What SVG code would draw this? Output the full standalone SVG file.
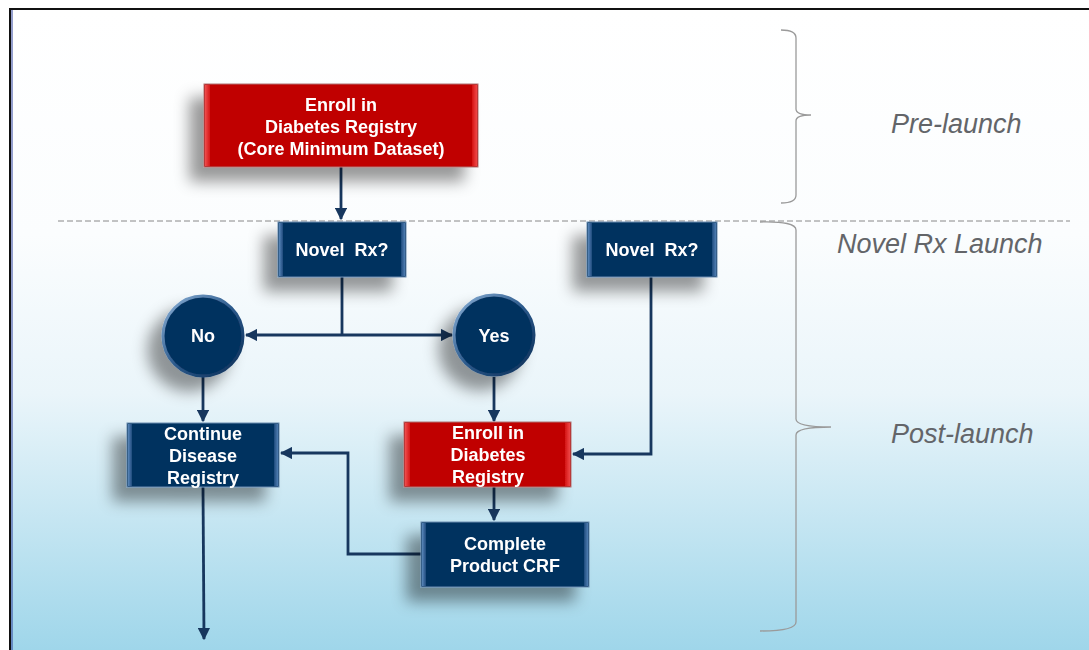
<svg xmlns="http://www.w3.org/2000/svg" width="1089" height="650" viewBox="0 0 1089 650">
  <defs>
    <linearGradient id="bg" x1="0" y1="0" x2="0" y2="1">
      <stop offset="0" stop-color="#ffffff"/>
      <stop offset="0.35" stop-color="#fbfdfe"/>
      <stop offset="0.6" stop-color="#eaf5fa"/>
      <stop offset="1" stop-color="#9fd6ea"/>
    </linearGradient>
    <linearGradient id="navyEdge" x1="0" y1="0" x2="1" y2="0">
      <stop offset="0" stop-color="#5a88bb"/>
      <stop offset="1" stop-color="#1e4a7c"/>
    </linearGradient>
    <linearGradient id="navyEdgeR" x1="0" y1="0" x2="1" y2="0">
      <stop offset="0" stop-color="#1e4a7c"/>
      <stop offset="1" stop-color="#4f7fb3"/>
    </linearGradient>
    <linearGradient id="redEdge" x1="0" y1="0" x2="1" y2="0">
      <stop offset="0" stop-color="#f05050"/>
      <stop offset="1" stop-color="#d41414"/>
    </linearGradient>
    <linearGradient id="redEdgeR" x1="0" y1="0" x2="1" y2="0">
      <stop offset="0" stop-color="#d41414"/>
      <stop offset="1" stop-color="#f04848"/>
    </linearGradient>
    <linearGradient id="ring" x1="0" y1="0" x2="1" y2="1">
      <stop offset="0" stop-color="#8fb4da"/>
      <stop offset="0.5" stop-color="#2c5a8c"/>
      <stop offset="1" stop-color="#0b2d55"/>
    </linearGradient>
    <filter id="shadow" x="-40%" y="-40%" width="180%" height="200%">
      <feGaussianBlur in="SourceAlpha" stdDeviation="7.5"/>
      <feOffset dx="-14" dy="14" result="b"/>
      <feFlood flood-color="#000" flood-opacity="0.4"/>
      <feComposite in2="b" operator="in" result="s"/>
      <feMerge>
        <feMergeNode in="s"/>
        <feMergeNode in="SourceGraphic"/>
      </feMerge>
    </filter>
    <marker id="arrow" viewBox="0 0 10 10" refX="9" refY="5" markerWidth="4.4" markerHeight="4.4" orient="auto-start-reverse" markerUnits="strokeWidth">
      <path d="M0,0 L10,5 L0,10 Z" fill="#17375e"/>
    </marker>
  </defs>
  <style>
    .navy { fill: #03315f; stroke: #6a8bb0; stroke-width: 1; }
    .red { fill: #c00000; stroke: #b07070; stroke-width: 1; }
    .lbl { font-family: "Liberation Sans", Arial, sans-serif; font-weight: bold; font-size: 18px; fill: #ffffff; text-anchor: middle; }
    .phase { font-family: "Liberation Sans", Arial, sans-serif; font-style: italic; font-size: 27px; fill: #636569; }
    .conn { fill: none; stroke: #17375e; stroke-width: 2.8; }
    .brace { fill: none; stroke: #9a9a9a; stroke-width: 1.3; }
  </style>

  <!-- page background and frame -->
  <rect x="0" y="0" width="1089" height="650" fill="#ffffff"/>
  <rect x="11" y="10" width="1078" height="640" fill="url(#bg)"/>
  <line x1="10" y1="9" x2="1089" y2="9" stroke="#111" stroke-width="2"/>
  <line x1="10" y1="8" x2="10" y2="650" stroke="#111" stroke-width="2"/>
  <line x1="12" y1="10" x2="12" y2="650" stroke="#2a3f9a" stroke-width="1"/>

  <!-- phase separator -->
  <line x1="58" y1="221" x2="1070" y2="221" stroke="#888888" stroke-width="1" stroke-dasharray="6,3"/>

  <!-- phase braces and labels -->
  <g id="phases">
    <path class="brace" d="M781,30 Q796,30 796,38 L796,109 Q796,115 811,115 Q796,115 796,121 L796,195 Q796,203 781,203"/>
    <path class="brace" d="M760,222 Q796,221 796,230 L796,419 Q796,427 831,427 Q796,427 796,435 L796,622 Q796,631 760,631"/>
    <text class="phase" x="891" y="133">Pre-launch</text>
    <text class="phase" x="837" y="253">Novel Rx Launch</text>
    <text class="phase" x="891" y="443">Post-launch</text>
  </g>

  <!-- connectors -->
  <g id="connectors">
    <path class="conn" d="M341,167 L341,219" marker-end="url(#arrow)"/>
    <path class="conn" d="M342,277 L342,335"/>
    <path class="conn" d="M246,335 L452,335" marker-start="url(#arrow)" marker-end="url(#arrow)"/>
    <path class="conn" d="M203,377 L203,421" marker-end="url(#arrow)"/>
    <path class="conn" d="M494,377 L494,421" marker-end="url(#arrow)"/>
    <path class="conn" d="M651,277 L651,454 L573,454" marker-end="url(#arrow)"/>
    <path class="conn" d="M494,487 L494,520" marker-end="url(#arrow)"/>
    <path class="conn" d="M421,554 L348,554 L348,453 L281,453" marker-end="url(#arrow)"/>
    <path class="conn" d="M203,487 L204,639" marker-end="url(#arrow)"/>
  </g>

  <!-- enrollment box (pre-launch) -->
  <g id="enroll-core" filter="url(#shadow)">
    <rect class="red" x="204" y="84" width="274" height="83"/>
    <rect x="205" y="85" width="5" height="81" fill="url(#redEdge)"/>
    <rect x="472" y="85" width="5" height="81" fill="url(#redEdgeR)"/>
    <text class="lbl" x="341" y="111">Enroll in</text>
    <text class="lbl" x="341" y="133">Diabetes Registry</text>
    <text class="lbl" x="341" y="155">(Core Minimum Dataset)</text>
  </g>

  <!-- decision: Novel Rx? (left) -->
  <g id="novel-rx-1" filter="url(#shadow)">
    <rect class="navy" x="278" y="222" width="128" height="55"/>
    <rect x="279" y="223" width="4" height="53" fill="url(#navyEdge)"/>
    <rect x="401" y="223" width="4" height="53" fill="url(#navyEdgeR)"/>
    <text class="lbl" x="342" y="256" xml:space="preserve">Novel  Rx?</text>
  </g>

  <!-- decision: Novel Rx? (right) -->
  <g id="novel-rx-2" filter="url(#shadow)">
    <rect class="navy" x="587" y="222" width="130" height="55"/>
    <rect x="588" y="223" width="4" height="53" fill="url(#navyEdge)"/>
    <rect x="712" y="223" width="4" height="53" fill="url(#navyEdgeR)"/>
    <text class="lbl" x="652" y="256" xml:space="preserve">Novel  Rx?</text>
  </g>

  <!-- answers -->
  <g id="no" filter="url(#shadow)">
    <circle cx="203" cy="336" r="40" fill="#06325f" stroke="url(#ring)" stroke-width="3"/>
    <text class="lbl" x="203" y="342">No</text>
  </g>
  <g id="yes" filter="url(#shadow)">
    <circle cx="494" cy="335" r="40" fill="#06325f" stroke="url(#ring)" stroke-width="3"/>
    <text class="lbl" x="494" y="342">Yes</text>
  </g>

  <!-- continue disease registry -->
  <g id="continue-registry" filter="url(#shadow)">
    <rect class="navy" x="127" y="423" width="152" height="64"/>
    <rect x="128" y="424" width="4" height="62" fill="url(#navyEdge)"/>
    <rect x="274" y="424" width="4" height="62" fill="url(#navyEdgeR)"/>
    <text class="lbl" x="203" y="440">Continue</text>
    <text class="lbl" x="203" y="462">Disease</text>
    <text class="lbl" x="203" y="484">Registry</text>
  </g>

  <!-- enroll in diabetes registry (post-launch) -->
  <g id="enroll-post" filter="url(#shadow)">
    <rect class="red" x="404" y="422" width="167" height="65"/>
    <rect x="405" y="423" width="5" height="63" fill="url(#redEdge)"/>
    <rect x="565" y="423" width="5" height="63" fill="url(#redEdgeR)"/>
    <text class="lbl" x="488" y="439">Enroll in</text>
    <text class="lbl" x="488" y="461">Diabetes</text>
    <text class="lbl" x="488" y="483">Registry</text>
  </g>

  <!-- product CRF -->
  <g id="product-crf" filter="url(#shadow)">
    <rect class="navy" x="421" y="522" width="168" height="65"/>
    <rect x="422" y="523" width="4" height="63" fill="url(#navyEdge)"/>
    <rect x="584" y="523" width="4" height="63" fill="url(#navyEdgeR)"/>
    <text class="lbl" x="505" y="550">Complete</text>
    <text class="lbl" x="505" y="572">Product CRF</text>
  </g>
</svg>
